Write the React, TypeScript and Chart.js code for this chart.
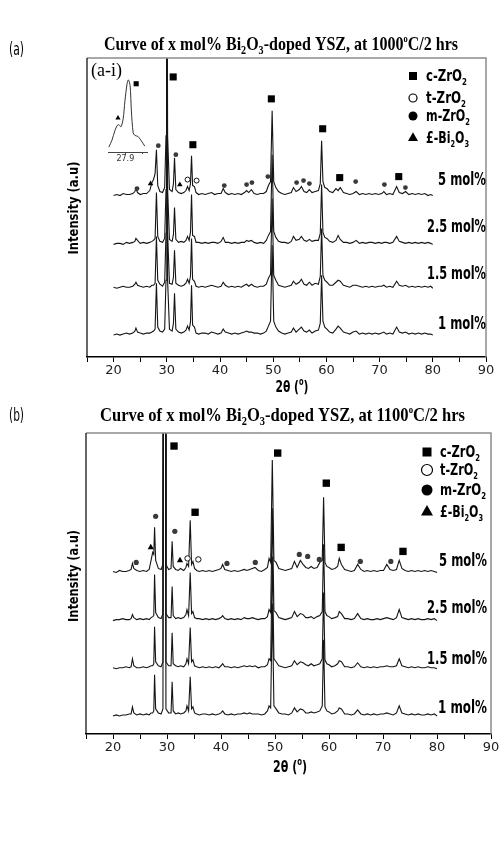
import React, { useEffect, useRef } from 'react';
import { Chart, registerables } from 'chart.js';
Chart.register(...registerables);

// ---------- DATA ----------
const seriesNames = ['5 mol%', '2.5 mol%', '1.5 mol%', '1 mol%'];
const xTickStep = 5;

// Panel (a): 1000 C / 2 hrs
const gridA = [
  20.0, 20.6, 21.2, 21.8, 22.4, 23.0, 23.6, 24.0, 24.2, 24.5,
  25.0, 25.6, 26.2, 26.8, 27.2, 27.5, 27.8, 28.05, 28.3, 28.7,
  29.2, 29.6, 29.85, 30.0, 30.15, 30.5, 31.0, 31.25, 31.45, 31.7,
  32.2, 32.7, 33.2, 33.6, 33.9, 34.2, 34.45, 34.65, 34.85, 35.2,
  35.5, 36.0, 36.6, 37.2, 37.8, 38.4, 39.0, 39.6, 40.2, 40.6,
  41.0, 41.6, 42.2, 42.8, 43.4, 44.0, 44.6, 45.0, 45.4, 45.9,
  46.4, 47.0, 47.6, 48.2, 48.7, 49.1, 49.5, 49.8, 50.1, 50.5,
  51.0, 51.6, 52.2, 52.8, 53.4, 53.8, 54.3, 54.9, 55.3, 55.8,
  56.3, 56.8, 57.3, 57.9, 58.5, 58.85, 59.1, 59.35, 59.7, 60.1,
  60.6, 61.2, 61.8, 62.2, 62.6, 63.2, 63.8, 64.4, 65.0, 65.6,
  66.2, 66.8, 67.4, 68.0, 68.6, 69.2, 69.8, 70.4, 70.8, 71.3,
  71.9, 72.5, 73.2, 73.7, 74.3, 74.9, 75.5, 76.1, 76.7, 77.3,
  77.9, 78.5, 79.1, 79.6, 80.0,
];
const a5 = [
  0, 1, 0, 2, 1, 1, 2, 4, 7, 3,
  1, 2, 2, 5, 13, 16, 22, 46, 10, 4,
  3, 8, 60, 420, 60, 6, 4, 12, 38, 6,
  3, 2, 3, 5, 9, 5, 12, 40, 10, 9,
  3, 1, 2, 1, 2, 3, 1, 2, 2, 7,
  3, 1, 2, 1, 2, 1, 3, 5, 3, 6,
  2, 1, 2, 2, 4, 10, 14, 85, 14, 8,
  4, 2, 1, 2, 3, 8, 4, 6, 9, 4,
  3, 6, 3, 4, 5, 12, 55, 14, 8, 7,
  4, 3, 7, 5, 8, 3, 2, 1, 2, 4,
  1, 2, 1, 2, 1, 2, 1, 2, 4, 1,
  2, 1, 9, 3, 2, 4, 1, 2, 1, 2,
  1, 2, 0, 1, 0,
];
const a25 = [
  0, 1, 1, 0, 2, 1, 2, 3, 6, 4,
  1, 2, 1, 2, 3, 4, 6, 52, 8, 3,
  2, 6, 55, 420, 55, 5, 3, 10, 37, 5,
  2, 3, 2, 4, 8, 4, 12, 50, 9, 8,
  2, 2, 1, 2, 1, 2, 2, 1, 3, 7,
  2, 2, 1, 2, 1, 2, 2, 4, 3, 4,
  2, 1, 2, 1, 4, 9, 13, 90, 13, 7,
  3, 2, 2, 1, 3, 8, 4, 5, 8, 4,
  3, 5, 3, 4, 4, 11, 60, 12, 7, 6,
  3, 2, 4, 9, 5, 2, 2, 1, 2, 4,
  1, 2, 1, 2, 2, 1, 2, 1, 2, 2,
  1, 2, 8, 3, 2, 1, 2, 1, 2, 1,
  2, 1, 2, 1, 0,
];
const a15 = [
  1, 0, 1, 2, 1, 1, 2, 4, 6, 3,
  2, 1, 2, 1, 3, 3, 5, 52, 8, 4,
  2, 6, 55, 420, 55, 5, 4, 11, 38, 5,
  3, 2, 3, 5, 9, 5, 12, 50, 9, 7,
  2, 1, 2, 1, 2, 3, 2, 1, 2, 6,
  3, 1, 2, 1, 2, 1, 3, 4, 2, 4,
  2, 1, 2, 2, 4, 10, 14, 90, 13, 8,
  3, 2, 1, 2, 3, 7, 4, 6, 9, 4,
  3, 6, 3, 5, 4, 12, 60, 13, 8, 6,
  3, 3, 6, 8, 7, 3, 2, 1, 3, 3,
  2, 1, 2, 1, 2, 1, 2, 2, 3, 1,
  2, 1, 7, 3, 2, 3, 1, 2, 1, 2,
  1, 2, 1, 2, 0,
];
const a1 = [
  0, 1, 0, 1, 2, 1, 2, 4, 7, 3,
  2, 1, 2, 2, 3, 4, 6, 52, 8, 4,
  3, 6, 55, 420, 55, 6, 4, 12, 42, 6,
  3, 2, 3, 5, 9, 5, 13, 50, 10, 8,
  2, 1, 2, 2, 1, 3, 2, 1, 2, 6,
  3, 2, 1, 2, 1, 2, 3, 4, 3, 3,
  2, 2, 1, 2, 4, 9, 14, 90, 14, 8,
  4, 2, 1, 2, 3, 7, 3, 6, 8, 4,
  3, 5, 2, 4, 5, 12, 60, 14, 8, 6,
  3, 2, 6, 9, 7, 3, 2, 1, 3, 4,
  1, 2, 1, 2, 1, 2, 1, 2, 3, 1,
  2, 1, 8, 3, 2, 3, 1, 2, 1, 2,
  1, 2, 1, 1, 0,
];
const offsetsA = [162, 113, 69, 22];

const aSquareX = [31.2, 34.9, 49.65, 59.3, 62.5, 73.6];
const aSquareY = [281, 213, 259, 229, 180, 181];
const aDotX = [24.4, 28.4, 31.7, 40.8, 45.0, 46.0, 49.0, 54.4, 55.7, 56.8, 65.5, 70.9, 74.85];
const aDotY = [169, 212, 203, 172, 173, 175, 181, 175, 177, 174, 176, 173, 170];
const aOpenX = [33.9, 35.6];
const aOpenY = [178, 177];
const aTriX = [26.95, 32.45];
const aTriY = [174, 173];

// Panel (b): 1100 C / 2 hrs
const gridB = [
  20.0, 20.6, 21.2, 21.8, 22.4, 23.0, 23.35, 23.6, 23.85, 24.4,
  25.0, 25.6, 26.2, 26.7, 27.05, 27.35, 27.55, 27.7, 27.9, 28.4,
  28.9, 29.25, 29.35, 29.7, 29.8, 30.3, 30.75, 30.95, 31.15, 31.6,
  32.1, 32.5, 33.1, 33.5, 33.7, 34.0, 34.3, 34.55, 34.8, 35.1,
  35.5, 36.0, 36.6, 37.2, 37.8, 38.4, 39.0, 39.6, 40.0, 40.3,
  40.7, 41.3, 41.9, 42.5, 43.1, 43.7, 44.3, 44.8, 45.3, 45.8,
  46.3, 46.9, 47.5, 48.1, 48.6, 48.9, 49.2, 49.5, 49.8, 50.2,
  50.7, 51.3, 51.9, 52.5, 53.1, 53.6, 54.1, 54.7, 55.2, 55.7,
  56.2, 56.7, 57.2, 57.8, 58.3, 58.75, 59.0, 59.25, 59.6, 60.0,
  60.5, 61.1, 61.6, 61.9, 62.3, 62.9, 63.5, 64.1, 64.7, 65.3,
  65.9, 66.5, 67.1, 67.7, 68.3, 68.9, 69.5, 70.1, 70.7, 71.3,
  71.9, 72.5, 73.0, 73.5, 74.1, 74.7, 75.3, 75.9, 76.5, 77.1,
  77.7, 78.3, 78.9, 79.5, 80.0,
];
const b5 = [
  1, 0, 2, 1, 1, 2, 3, 9, 4, 2,
  1, 2, 1, 3, 12, 20, 18, 45, 12, 4,
  3, 8, 420, 420, 8, 3, 4, 31, 6, 3,
  2, 4, 2, 5, 9, 6, 52, 8, 11, 4,
  2, 1, 2, 1, 2, 1, 2, 3, 4, 8,
  3, 2, 1, 2, 1, 2, 3, 2, 3, 4,
  5, 2, 1, 3, 5, 14, 10, 112, 12, 10,
  4, 3, 2, 3, 4, 11, 5, 12, 8, 5,
  4, 6, 4, 5, 10, 12, 75, 10, 6, 5,
  3, 4, 6, 14, 8, 3, 2, 1, 2, 8,
  3, 1, 2, 1, 2, 1, 2, 2, 8, 3,
  2, 3, 12, 4, 2, 1, 2, 1, 2, 1,
  2, 1, 2, 1, 0,
];
const b25 = [
  0, 1, 1, 2, 1, 1, 2, 6, 3, 1,
  2, 1, 2, 1, 3, 4, 5, 46, 8, 3,
  2, 7, 420, 420, 7, 3, 3, 34, 5, 2,
  3, 2, 3, 6, 11, 5, 48, 7, 9, 3,
  2, 2, 1, 2, 1, 2, 1, 2, 3, 5,
  2, 1, 2, 1, 2, 1, 3, 2, 2, 3,
  2, 1, 2, 2, 4, 11, 8, 112, 10, 8,
  3, 2, 1, 2, 3, 9, 4, 7, 6, 3,
  3, 4, 2, 4, 5, 9, 76, 9, 5, 4,
  2, 3, 4, 9, 7, 2, 2, 1, 2, 7,
  2, 1, 2, 1, 1, 2, 1, 2, 3, 2,
  1, 3, 11, 3, 2, 1, 2, 1, 2, 1,
  1, 2, 1, 2, 0,
];
const b15 = [
  1, 0, 1, 1, 2, 1, 2, 10, 3, 1,
  1, 2, 1, 2, 3, 3, 5, 42, 7, 3,
  2, 7, 420, 420, 7, 3, 3, 36, 5, 3,
  2, 3, 2, 5, 10, 5, 41, 7, 9, 3,
  2, 1, 2, 1, 2, 1, 2, 1, 3, 5,
  2, 2, 1, 2, 1, 2, 3, 2, 3, 2,
  3, 1, 2, 2, 4, 10, 8, 112, 10, 7,
  3, 2, 1, 2, 3, 8, 4, 7, 6, 4,
  3, 5, 3, 4, 5, 10, 76, 9, 5, 4,
  2, 3, 5, 8, 7, 2, 2, 1, 2, 6,
  2, 1, 2, 1, 2, 1, 2, 2, 3, 2,
  2, 3, 10, 3, 2, 1, 2, 1, 2, 1,
  1, 2, 1, 1, 0,
];
const b1 = [
  0, 1, 0, 1, 1, 2, 2, 9, 3, 1,
  2, 1, 2, 1, 3, 3, 5, 41, 7, 3,
  2, 7, 420, 420, 7, 3, 3, 34, 5, 2,
  3, 2, 3, 5, 10, 5, 39, 7, 9, 3,
  2, 1, 2, 2, 1, 2, 1, 2, 3, 5,
  2, 1, 2, 1, 2, 2, 3, 2, 3, 2,
  2, 2, 1, 2, 5, 10, 8, 112, 10, 7,
  3, 2, 2, 1, 3, 8, 4, 7, 6, 3,
  3, 4, 3, 4, 5, 10, 76, 9, 5, 4,
  2, 3, 5, 8, 7, 2, 2, 1, 2, 6,
  2, 1, 2, 1, 2, 1, 2, 2, 3, 2,
  1, 3, 10, 3, 2, 1, 2, 1, 2, 1,
  1, 2, 1, 2, 0,
];
const offsetsB = [161, 113, 65, 18];

const bSquareX = [31.3, 35.2, 50.5, 59.5, 62.25, 73.7];
const bSquareY = [287, 221, 280, 250, 186, 182];
const bDotX = [24.3, 27.9, 31.45, 41.1, 46.35, 54.5, 56.05, 58.2, 65.8, 71.45];
const bDotY = [171, 217, 202, 170, 171, 179, 177, 174, 172, 172];
const bOpenX = [33.8, 35.8];
const bOpenY = [175, 174];
const bTriX = [27.0, 32.4];
const bTriY = [186, 173];

// Inset (a-i): zoom around 27.9
const insetX = [27.52, 27.59, 27.66, 27.71, 27.75, 27.8, 27.85, 27.89, 27.94, 27.97, 28.01, 28.04, 28.08, 28.12, 28.19, 28.26, 28.35];
const insetY = [5, 12, 22, 27, 28, 26, 34, 52, 70, 74, 68, 42, 20, 17, 16, 12, 6];
const insetTick = 27.9;

// ---------- helpers ----------
type Seg = { t: string; s?: number; dy?: number };

function drawSegs(ctx: CanvasRenderingContext2D, segs: Seg[], x: number, y: number, opt: any) {
  const { family, size, weight = 'normal', width, align = 'left', color = '#000', rotate = false } = opt;
  const fontOf = (sg: Seg) => `${weight} ${Math.round(size * (sg.s ?? 1))}px ${family}`;
  let total = 0;
  const ws = segs.map((sg) => {
    ctx.font = fontOf(sg);
    const w = ctx.measureText(sg.t).width;
    total += w;
    return w;
  });
  const k = width ? width / total : 1;
  ctx.save();
  ctx.translate(x, y);
  if (rotate) ctx.rotate(-Math.PI / 2);
  const x0 = align === 'right' ? -total * k : align === 'center' ? (-total * k) / 2 : 0;
  ctx.translate(x0, 0);
  ctx.scale(k, 1);
  ctx.fillStyle = color;
  ctx.textBaseline = 'alphabetic';
  ctx.textAlign = 'left';
  let cx = 0;
  segs.forEach((sg, i) => {
    ctx.font = fontOf(sg);
    ctx.fillText(sg.t, cx, sg.dy ?? 0);
    cx += ws[i];
  });
  ctx.restore();
}

function drawMarker(ctx: CanvasRenderingContext2D, kind: string, x: number, y: number, s: number) {
  ctx.save();
  ctx.fillStyle = '#000';
  ctx.strokeStyle = '#000';
  ctx.lineWidth = 1.2;
  ctx.beginPath();
  if (kind === 'sq') {
    ctx.rect(x - s / 2, y - s / 2, s, s);
    ctx.fill();
  } else if (kind === 'open') {
    ctx.arc(x, y, s, 0, Math.PI * 2);
    ctx.fillStyle = '#fff';
    ctx.fill();
    ctx.stroke();
  } else if (kind === 'dot') {
    ctx.arc(x, y, s, 0, Math.PI * 2);
    ctx.fill();
  } else {
    ctx.moveTo(x, y - s * 0.577);
    ctx.lineTo(x - s / 2, y + s * 0.289);
    ctx.lineTo(x + s / 2, y + s * 0.289);
    ctx.closePath();
    ctx.fill();
  }
  ctx.restore();
}

const sub = (t: string): Seg => ({ t, s: 0.62, dy: 4 });
const titleSegs = (temp: string): Seg[] => [
  { t: 'Curve of x mol% Bi' }, sub('2'), { t: 'O' }, sub('3'),
  { t: '-doped YSZ, at ' + temp }, { t: 'o', s: 0.55, dy: -8 }, { t: 'C/2 hrs' },
];
const legendSegs: Seg[][] = [
  [{ t: 'c-ZrO' }, sub('2')],
  [{ t: 't-ZrO' }, sub('2')],
  [{ t: 'm-ZrO' }, sub('2')],
  [{ t: '£-Bi' }, sub('2'), { t: 'O' }, sub('3')],
];
const legendKinds = ['sq', 'open', 'dot', 'tri'];

const SANS = '"DejaVu Sans"';
const SERIF = '"Liberation Serif"';

function panelPlugin(p: any) {
  return {
    id: 'deco' + p.id,
    afterDraw(chart: any) {
      const ctx: CanvasRenderingContext2D = chart.ctx;
      const a = chart.chartArea;
      ctx.save();
      ctx.strokeStyle = '#8c8c8c';
      ctx.lineWidth = 1.5;
      ctx.beginPath();
      ctx.moveTo(a.left, a.top);
      ctx.lineTo(a.right, a.top);
      ctx.lineTo(a.right, a.bottom);
      ctx.stroke();
      ctx.strokeStyle = '#000';
      ctx.lineWidth = 1.2;
      ctx.beginPath();
      ctx.moveTo(a.left, a.top);
      ctx.lineTo(a.left, a.bottom);
      ctx.stroke();
      ctx.restore();

      const t = p.text;
      drawSegs(ctx, [{ t: t.panel }], t.panelX, t.panelY, { family: SANS, size: 17, width: 15 });
      drawSegs(ctx, titleSegs(t.temp), t.titleX, t.titleY, { family: SERIF, size: 19, weight: 'bold', width: t.titleW });
      drawSegs(ctx, [{ t: 'Intensity (a.u)' }], t.yTitleX, t.yTitleY, { family: SANS, size: 14, weight: 'bold', width: t.yTitleW, align: 'center', rotate: true });
      drawSegs(ctx, [{ t: '2θ (' }, { t: 'o', s: 0.6, dy: -7 }, { t: ')' }], t.xTitleX, t.xTitleY, { family: SANS, size: 16, weight: 'bold', width: t.xTitleW, align: 'center' });
      legendSegs.forEach((segs, i) => {
        drawMarker(ctx, legendKinds[i], t.legX, t.legRows[i], t.legSizes[i]);
        drawSegs(ctx, segs, t.legTextX, t.legRows[i] + 5, { family: SANS, size: 15, weight: 'bold', width: t.legW[i] });
      });
      seriesNames.forEach((name, i) => {
        drawSegs(ctx, [{ t: name }], t.labRight, t.labY[i], { family: SANS, size: 17, weight: 'bold', width: t.labW[i], align: 'right' });
      });
      if (t.inset) {
        drawSegs(ctx, [{ t: '(a-i)' }], 91, 76, { family: SERIF, size: 18, width: 31 });
      }
    },
  };
}

function makeConfig(p: any): any {
  const curves = p.series.map((vals: number[], k: number) => ({
    type: 'scatter',
    label: seriesNames[k],
    data: p.grid.map((x: number, i: number) => ({ x, y: p.offsets[k] + vals[i] })),
    showLine: true,
    borderColor: '#151515',
    borderWidth: 1.1,
    pointRadius: 0,
    pointHoverRadius: 0,
    tension: 0,
  }));
  const mk = (xs: number[], ys: number[], style: string, r: number, bg: string, bw: number) => ({
    type: 'scatter',
    data: xs.map((x, i) => ({ x, y: ys[i] })),
    showLine: false,
    pointStyle: style,
    pointRadius: r,
    pointHoverRadius: r,
    backgroundColor: bg,
    borderColor: '#111',
    borderWidth: bw,
  });
  const m = p.markers;
  const markers = [
    mk(m.sqX, m.sqY, 'rect', m.sqR, '#000', 0),
    mk(m.dotX, m.dotY, 'circle', m.dotR, '#3a3a3a', 0),
    mk(m.openX, m.openY, 'circle', m.openR, '#fff', 1),
    mk(m.triX, m.triY, 'triangle', m.triR, '#000', 0),
  ];
  return {
    type: 'scatter',
    data: { datasets: [...markers, ...curves] },
    options: {
      animation: false,
      responsive: false,
      devicePixelRatio: 1,
      events: [],
      layout: { padding: p.padding },
      plugins: { legend: { display: false }, tooltip: { enabled: false }, title: { display: false } },
      scales: {
        x: {
          type: 'linear',
          min: 15,
          max: 90,
          afterFit: (s: any) => { s.height = 40; },
          ticks: {
            stepSize: xTickStep,
            autoSkip: false,
            maxRotation: 0,
            padding: 1,
            color: '#222',
            font: { family: SANS, size: 13 },
            callback: (v: number) => (v % 10 === 0 ? String(v) : ''),
          },
          grid: { display: true, drawOnChartArea: false, drawTicks: true, tickLength: 5, color: '#000', lineWidth: 1 },
          border: { display: true, color: '#000', width: 1.5 },
        },
        y: { type: 'linear', min: 0, max: 300, display: false },
      },
    },
    plugins: [panelPlugin(p)],
  };
}

const panelA = {
  id: 'A',
  grid: gridA,
  series: [a5, a25, a15, a1],
  offsets: offsetsA,
  padding: { left: 87, right: 17, top: 58, bottom: 3 },
  markers: {
    sqX: aSquareX, sqY: aSquareY, sqR: 5,
    dotX: aDotX, dotY: aDotY, dotR: 2.4,
    openX: aOpenX, openY: aOpenY, openR: 2.5,
    triX: aTriX, triY: aTriY, triR: 3.2,
  },
  text: {
    panel: '(a)', panelX: 9, panelY: 55, temp: '1000',
    titleX: 104, titleY: 50, titleW: 354,
    yTitleX: 78, yTitleY: 208, yTitleW: 93,
    xTitleX: 292, xTitleY: 392, xTitleW: 33,
    legX: 413, legRows: [76, 98, 116, 138], legSizes: [8, 4, 4.5, 10], legTextX: 426, legW: [41, 40, 44, 43],
    labRight: 486, labY: [185, 232, 279, 329], labW: [48, 59, 59, 48],
    inset: true,
  },
};

const panelB = {
  id: 'B',
  grid: gridB,
  series: [b5, b25, b15, b1],
  offsets: offsetsB,
  padding: { left: 86, right: 12, top: 33, bottom: 71 },
  markers: {
    sqX: bSquareX, sqY: bSquareY, sqR: 5.2,
    dotX: bDotX, dotY: bDotY, dotR: 2.6,
    openX: bOpenX, openY: bOpenY, openR: 2.7,
    triX: bTriX, triY: bTriY, triR: 3.6,
  },
  text: {
    panel: '(b)', panelX: 9, panelY: 21, temp: '1100',
    titleX: 100, titleY: 21, titleW: 365,
    yTitleX: 78, yTitleY: 176, yTitleW: 92,
    xTitleX: 290, xTitleY: 372, xTitleW: 34,
    legX: 427, legRows: [52, 70, 90, 112], legSizes: [9, 5.5, 5.5, 12], legTextX: 440, legW: [40, 38, 46, 43],
    labRight: 487, labY: [166, 213, 264, 313], labW: [48, 60, 60, 49],
    inset: false,
  },
};

function insetConfig(): any {
  return {
    type: 'scatter',
    data: {
      datasets: [
        { data: [{ x: 27.73, y: 35 }], pointStyle: 'triangle', pointRadius: 3, backgroundColor: '#000', borderWidth: 0 },
        { data: [{ x: 28.15, y: 70 }], pointStyle: 'rect', pointRadius: 3.6, backgroundColor: '#000', borderWidth: 0 },
        {
          data: insetX.map((x, i) => ({ x, y: insetY[i] })),
          showLine: true, borderColor: '#333', borderWidth: 1, pointRadius: 0, tension: 0.3,
        },
      ],
    },
    options: {
      animation: false,
      responsive: false,
      devicePixelRatio: 1,
      events: [],
      layout: { padding: { left: 4, right: 5, top: 2, bottom: 0 } },
      plugins: { legend: { display: false }, tooltip: { enabled: false } },
      scales: {
        x: {
          type: 'linear', min: 27.5, max: 28.4,
          afterFit: (s: any) => { s.height = 13; },
          afterBuildTicks: (s: any) => { s.ticks = [{ value: insetTick }, { value: 28.3 }]; },
          ticks: { padding: 0, color: '#333', font: { family: SANS, size: 8 }, maxRotation: 0, autoSkip: false, callback: (v: number) => (v === insetTick ? '27.9' : '') },
          grid: { display: true, drawOnChartArea: false, tickLength: 2, color: '#444' },
          border: { display: true, color: '#444', width: 1 },
        },
        y: { type: 'linear', min: 0, max: 80, display: false },
      },
    },
  };
}

export default function App() {
  const refA = useRef<HTMLCanvasElement>(null);
  const refB = useRef<HTMLCanvasElement>(null);
  const refI = useRef<HTMLCanvasElement>(null);
  useEffect(() => {
    const charts = [
      new Chart(refA.current as HTMLCanvasElement, makeConfig(panelA)),
      new Chart(refB.current as HTMLCanvasElement, makeConfig(panelB)),
      new Chart(refI.current as HTMLCanvasElement, insetConfig()),
    ];
    return () => charts.forEach((c) => c.destroy());
  }, []);
  return (
    <div style={{ position: 'absolute', left: 0, top: 0, width: 503, height: 845, background: '#fff' }}>
      <canvas ref={refA} width={503} height={400} style={{ position: 'absolute', left: 0, top: 0 }} />
      <canvas ref={refB} width={503} height={445} style={{ position: 'absolute', left: 0, top: 400 }} />
      <canvas ref={refI} width={48} height={95} style={{ position: 'absolute', left: 104, top: 70 }} />
    </div>
  );
}
